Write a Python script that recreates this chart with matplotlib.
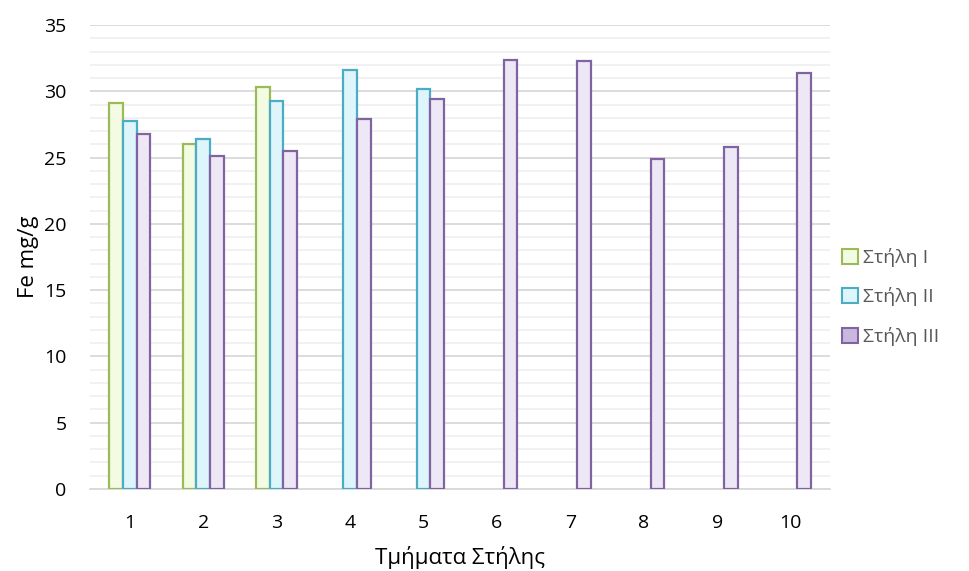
import numpy as np
from matplotlib import pyplot as plt
from matplotlib.patches import Patch

categories = ["1", "2", "3", "4", "5", "6", "7", "8", "9", "10"]
stili_1 = [29.1, 26.0, 30.3, np.nan, np.nan, np.nan, np.nan, np.nan, np.nan, np.nan]
stili_2 = [27.8, 26.4, 29.3, 31.6, 30.2, np.nan, np.nan, np.nan, np.nan, np.nan]
stili_3 = [26.8, 25.1, 25.5, 27.9, 29.4, 32.4, 32.3, 24.9, 25.8, 31.4]
labels = ["Στήλη I", "Στήλη II", "Στήλη III"]

edges = ["#9bbb59", "#4bacc6", "#8064a2"]
fills = ["#f3fbe2", "#dff5fc", "#ede7f6"]
legend_fills = ["#f3fbe2", "#dff5fc", "#c8b8e0"]

plt.rcParams["font.family"] = ["Open Sans", "DejaVu Sans"]

fig = plt.figure(figsize=(9.7, 5.71), dpi=100)
ax = fig.add_axes([0.093, 0.1436, 0.763, 0.8124])

x = np.arange(1, len(categories) + 1)
w = 0.185
for i, vals in enumerate([stili_1, stili_2, stili_3]):
    ax.bar(x + (i - 1) * w, vals, width=w, color=fills[i], edgecolor=edges[i],
           linewidth=1.6, zorder=3)

ax.set_xlim(0.46, 10.54)
ax.set_ylim(0, 35)
ax.set_yticks(np.arange(0, 36, 5))
ax.set_yticks(np.arange(0, 36, 1), minor=True)
ax.set_xticks(x)
ax.set_xticklabels(categories)
ax.grid(axis="y", which="major", color="#d9d9d9", linewidth=1.3, zorder=0)
ax.grid(axis="y", which="minor", color="#f0f0f0", linewidth=1.3, zorder=0)
ax.tick_params(axis="both", which="both", length=0, labelsize=14, colors="#000000")
ax.tick_params(axis="y", pad=17)
ax.tick_params(axis="x", pad=18)
for s in ["top", "right", "left"]:
    ax.spines[s].set_visible(False)
ax.spines["bottom"].set_color("#d9d9d9")
ax.spines["bottom"].set_linewidth(1.3)

ax.set_ylabel("Fe mg/g", fontsize=16, color="#000000", labelpad=4)
ax.set_xlabel("Τμήματα Στήλης", fontsize=16, color="#000000", labelpad=10)

handles = [Patch(facecolor=legend_fills[i], edgecolor=edges[i], linewidth=1.5, label=labels[i])
           for i in range(3)]
fig.legend(handles=handles, loc="center left", bbox_to_anchor=(0.85, 0.48), frameon=False,
           fontsize=14, labelcolor="#595959", handlelength=0.8, handleheight=0.8,
           handletextpad=0.3, labelspacing=1.05)

plt.savefig("out.png", dpi=100)
